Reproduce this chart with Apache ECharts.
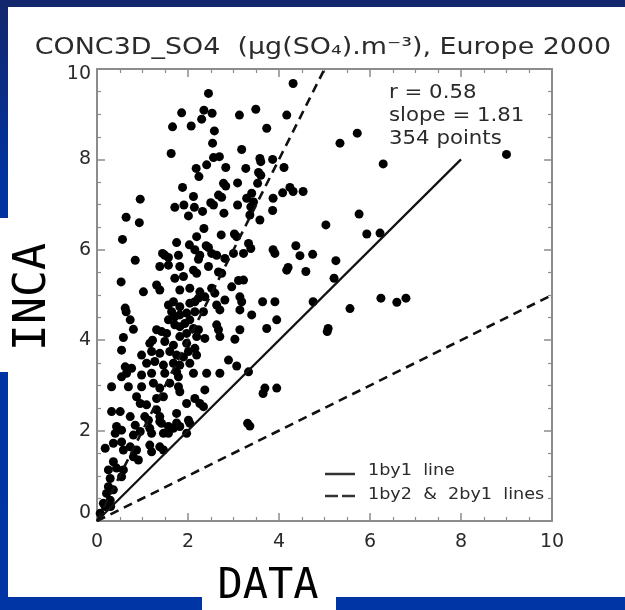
<!DOCTYPE html>
<html>
<head>
<meta charset="utf-8">
<script src="https://cdn.jsdelivr.net/npm/echarts@6/dist/echarts.min.js"></script>
<style>html,body{margin:0;padding:0;}#c{width:625px;height:610px;}</style>
</head>
<body>
<div id="c"></div>
<script>
// ---- data (DATA = observed, INCA = modelled), µg(SO4)/m3 ----
const points = [
[2.45,9.46],[1.86,9.03],[2.35,9.09],[2.53,9.02],[2.30,8.89],[1.66,8.72],[2.07,8.74],[2.58,8.63],[3.13,8.98],[3.49,9.11],
[3.73,8.69],[2.54,8.36],[3.18,8.22],[1.63,8.13],[2.56,8.04],[2.69,8.06],[3.58,8.02],[3.60,7.95],[3.86,8.00],[2.41,7.88],
[2.18,7.80],[2.24,7.62],[2.83,7.82],[3.27,7.80],[3.55,7.71],[3.60,7.65],[1.88,7.38],[2.78,7.47],[2.83,7.41],[3.09,7.48],
[3.53,7.47],[0.95,7.12],[2.12,7.18],[2.67,7.21],[2.74,7.16],[2.50,7.04],[2.56,6.99],[1.71,6.94],[1.91,6.99],[2.14,6.94],
[2.32,6.85],[3.09,6.99],[3.29,7.14],[3.40,7.25],[3.44,7.06],[3.38,6.95],[3.36,6.77],[3.58,6.66],[3.87,7.14],[3.86,6.87],
[2.79,6.81],[0.64,6.72],[0.93,6.60],[2.01,6.75],[2.35,6.47],[2.73,6.33],[3.02,6.35],[3.07,6.29],[2.19,6.29],[1.75,6.16],
[2.03,6.11],[0.56,6.23],[2.40,6.09],[2.45,6.05],[3.33,6.14],[3.38,6.03],[3.87,6.00],[3.91,5.92],[1.44,5.92],[1.49,5.88],
[1.79,5.88],[2.63,5.88],[3.00,5.92],[0.84,5.77],[2.23,5.79],
[1.57,5.83],[2.15,6.00],[2.26,5.88],[2.52,5.92],[2.81,5.81],[3.22,5.92],[1.38,5.63],[1.57,5.66],[1.82,5.63],[2.12,5.55],
[2.19,5.48],[2.45,5.63],[2.67,5.51],[2.74,5.48],[1.71,5.37],[1.90,5.41],[0.53,5.29],[3.11,5.32],[3.22,5.33],[2.96,5.18],
[1.02,5.07],[1.31,5.22],[1.38,5.11],[1.82,5.11],[2.04,5.15],[2.26,5.07],[2.52,5.15],[2.59,5.04],[2.23,4.93],[2.37,4.96],
[2.04,4.82],[2.15,4.85],[1.68,4.85],[1.57,4.78],[1.82,4.74],[2.81,4.89],[3.14,4.96],[3.18,4.85],[3.64,4.85],[3.91,4.85],
[0.62,4.71],[0.64,4.63],[1.97,4.60],[2.15,4.63],[2.34,4.63],[2.63,4.78],[2.70,4.67],[3.14,4.67],[3.40,4.56],[1.64,4.63],
[1.71,4.52],[1.82,4.56],[0.73,4.45],[1.57,4.45],[1.71,4.34],[1.82,4.30],[1.93,4.37],[2.04,4.45],[2.12,4.26],[2.23,4.23],
[2.63,4.34],[2.67,4.23],[3.14,4.23],[3.73,4.26],[3.95,4.45],[0.80,4.24],[1.31,4.23],[1.42,4.19],[1.53,4.15],[1.82,4.08],
[1.97,4.15],[2.19,4.08],[2.37,4.04],[2.70,4.08],[3.03,4.02],[0.58,4.06],[1.22,4.00],[1.16,3.93],[1.49,3.97],[1.68,3.89],
[1.97,3.93],[2.15,3.82],[0.54,3.78],[0.98,3.67],[1.20,3.75],[1.38,3.71],[1.60,3.75],[1.75,3.67],[1.90,3.63],[2.01,3.75],
[2.19,3.67],[2.89,3.56],[3.07,3.43],[0.62,3.41],[0.76,3.38],[1.09,3.49],[1.27,3.53],[1.46,3.45],[1.68,3.49],[1.82,3.45],
[2.04,3.49],[0.54,3.19],[0.65,3.27],[0.98,3.23],[1.20,3.27],[1.49,3.27],[1.75,3.30],[1.79,3.19],[2.12,3.27],[2.41,3.27],
[2.70,3.27],[3.33,3.30],[0.32,2.97],[0.69,2.97],[0.98,2.97],[1.24,3.05],[1.38,2.94],[1.60,3.05],[1.79,2.97],[1.82,2.86],
[2.37,2.90],[3.65,2.82],[3.69,2.94],[3.95,2.94],[0.87,2.75],[0.95,2.60],[1.09,2.57],[1.31,2.71],[1.46,2.75],[1.97,2.60],
[2.15,2.71],[2.26,2.60],[2.34,2.53],[0.32,2.42],[0.51,2.42],[0.73,2.31],[1.31,2.46],[1.75,2.38],[1.38,2.31],[1.13,2.23],
[1.38,2.20],[1.75,2.17],[2.04,2.16],[0.43,2.09],[0.54,2.01],[0.84,2.12],[0.95,1.98],[1.20,1.94],[1.57,2.09],[1.57,1.94],
[1.82,2.09],[1.97,1.94],
[1.05,2.31],[1.42,2.16],[2.01,2.23],[0.40,1.94],[0.80,1.90],[1.16,2.05],[1.46,1.94],[1.68,2.05],[0.18,1.61],[0.36,1.72],
[0.54,1.75],[0.58,1.57],[0.73,1.64],[0.87,1.57],[0.80,1.42],[1.16,1.68],[1.20,1.53],[1.38,1.64],[1.46,1.57],[0.91,1.35],
[0.36,1.31],[0.25,1.13],[0.43,1.17],[0.58,1.13],[0.29,0.94],[0.54,0.98],[0.25,0.76],[0.36,0.69],[0.21,0.61],[0.29,0.46],
[0.18,0.32],[0.14,0.39],[0.07,0.17],[0.30,0.32],[3.31,2.16],[3.36,2.10],
[4.31,9.68],[4.17,8.98],[5.34,8.36],[5.72,8.58],[9.00,8.11],[6.29,7.90],[4.11,7.82],[4.08,7.26],[4.24,7.38],[4.31,7.29],
[4.53,7.29],[5.76,6.79],[5.03,6.55],[5.93,6.35],[6.22,6.37],
[4.37,6.09],[4.46,5.87],[4.74,5.90],[4.17,5.55],[4.20,5.61],[4.59,5.52],[5.25,5.76],[5.21,5.37],[4.75,4.85],[5.56,4.70],
[6.24,4.93],[6.59,4.84],[6.79,4.93],[5.08,4.26],[5.06,4.19]
];
const line1by1 = [[0,0],[8,8]];
const line1by2 = [[0,0],[5,10]];
const line2by1 = [[0,0],[10,5]];
const axisMin = 0, axisMax = 10, axisStep = 2;
const titleText = 'CONC3D_SO4  (\u03BCg(SO\u2084).m\u207B\u00B3), Europe 2000';
const statsLines = ['r = 0.58', 'slope = 1.81', '354 points'];
const legendLabels = ['1by1  line', '1by2  &  2by1  lines'];
const xName = 'DATA', yName = 'INCA';

const TXT = '#2b2b2b', AX = '#8c8c8c';
const FONT = '"DejaVu Sans", sans-serif';
const labelSize = 19;

function axisCommon(pos, showLabel, isY) {
  const a = {
    type: 'value', min: axisMin, max: axisMax, interval: axisStep, position: pos,
    axisLine: { show: true, onZero: false, lineStyle: { color: AX, width: 2 } },
    axisTick: { show: true, inside: true, length: 8, lineStyle: { color: AX, width: 1.5 } },
    minorTick: { show: true, splitNumber: 4, length: 4, lineStyle: { color: AX, width: 1.2 } },
    splitLine: { show: false },
    axisLabel: { show: showLabel, color: TXT, fontSize: labelSize, fontFamily: FONT, margin: isY ? 6 : 12 }
  };
  if (isY && showLabel) {
    a.axisLabel.formatter = v => v === axisMin ? '{lo|' + v + '}' : (v === axisMax ? '{hi|' + v + '}' : '{n|' + v + '}');
    a.axisLabel.rich = {
      lo: { fontSize: labelSize, color: TXT, fontFamily: FONT, padding: [0, 0, 16, 0] },
      hi: { fontSize: labelSize, color: TXT, fontFamily: FONT, padding: [10, 0, 0, 0] },
      n: { fontSize: labelSize, color: TXT, fontFamily: FONT }
    };
  }
  return a;
}

const chart = echarts.init(document.getElementById('c'), null, { renderer: 'canvas' });
const dashStyle = { color: '#111', width: 2.6, type: [9, 6] };
chart.setOption({
  animation: false,
  backgroundColor: '#ffffff',
  grid: { left: 97, top: 69, width: 455, height: 452 },
  xAxis: [axisCommon('bottom', true, false), axisCommon('top', false, false)],
  yAxis: [axisCommon('left', true, true), axisCommon('right', false, true)],
  graphic: [
    { type: 'rect', z: -100, shape: { x: 0, y: 0, width: 625, height: 610 },
      style: { fill: { type: 'linear', x: 0, y: 0, x2: 0, y2: 1, colorStops: [
        { offset: 0, color: '#13276c' }, { offset: 0.3, color: '#0033a0' }, { offset: 1, color: '#0035a5' }] } } },
    { type: 'rect', z: -99, shape: { x: 8, y: 7, width: 617, height: 590 }, style: { fill: '#ffffff' } },
    { type: 'rect', z: -99, shape: { x: 0, y: 218, width: 20, height: 154 }, style: { fill: '#ffffff' } },
    { type: 'rect', z: -99, shape: { x: 202, y: 590, width: 134, height: 20 }, style: { fill: '#ffffff' } },
    { type: 'text', z: 10, x: 323, y: 48, scaleX: 1.17, style: { text: titleText, fill: TXT, font: '23px ' + FONT, textAlign: 'center', textVerticalAlign: 'middle' } },
    { type: 'text', z: 10, x: 389, y: 93, scaleX: 1.12, style: { text: statsLines[0], fill: TXT, font: '19px ' + FONT, textAlign: 'left', textVerticalAlign: 'middle' } },
    { type: 'text', z: 10, x: 389, y: 116, scaleX: 1.12, style: { text: statsLines[1], fill: TXT, font: '19px ' + FONT, textAlign: 'left', textVerticalAlign: 'middle' } },
    { type: 'text', z: 10, x: 389, y: 139, scaleX: 1.12, style: { text: statsLines[2], fill: TXT, font: '19px ' + FONT, textAlign: 'left', textVerticalAlign: 'middle' } },
    { type: 'line', z: 10, shape: { x1: 325, y1: 474, x2: 355, y2: 474 }, style: { stroke: '#333', lineWidth: 2.5 } },
    { type: 'line', z: 10, shape: { x1: 325, y1: 496, x2: 338, y2: 496 }, style: { stroke: '#333', lineWidth: 2.5 } },
    { type: 'line', z: 10, shape: { x1: 342, y1: 496, x2: 355, y2: 496 }, style: { stroke: '#333', lineWidth: 2.5 } },
    { type: 'text', z: 10, x: 368, y: 471, scaleX: 1.1, style: { text: legendLabels[0], fill: TXT, font: '16px ' + FONT, textAlign: 'left', textVerticalAlign: 'middle' } },
    { type: 'text', z: 10, x: 368, y: 495, scaleX: 1.1, style: { text: legendLabels[1], fill: TXT, font: '16px ' + FONT, textAlign: 'left', textVerticalAlign: 'middle' } },
    { type: 'text', z: 10, x: 268, y: 587, style: { text: xName, fill: '#000', font: '42px "DejaVu Sans Mono", monospace', textAlign: 'center', textVerticalAlign: 'middle' } },
    { type: 'text', z: 10, x: 33, y: 297, rotation: Math.PI / 2, style: { text: yName, fill: '#000', font: '45px "DejaVu Sans Mono", monospace', textAlign: 'center', textVerticalAlign: 'middle' } }
  ],
  series: [
    { type: 'scatter', data: points, symbol: 'circle', symbolSize: 9, itemStyle: { color: '#000', opacity: 1 }, z: 3 },
    { type: 'line', data: line1by1, symbol: 'none', lineStyle: { color: '#111', width: 2.2 }, z: 4 },
    { type: 'line', data: line1by2, symbol: 'none', lineStyle: dashStyle, z: 4 },
    { type: 'line', data: line2by1, symbol: 'none', lineStyle: dashStyle, z: 4 }
  ]
});
</script>
</body>
</html>
